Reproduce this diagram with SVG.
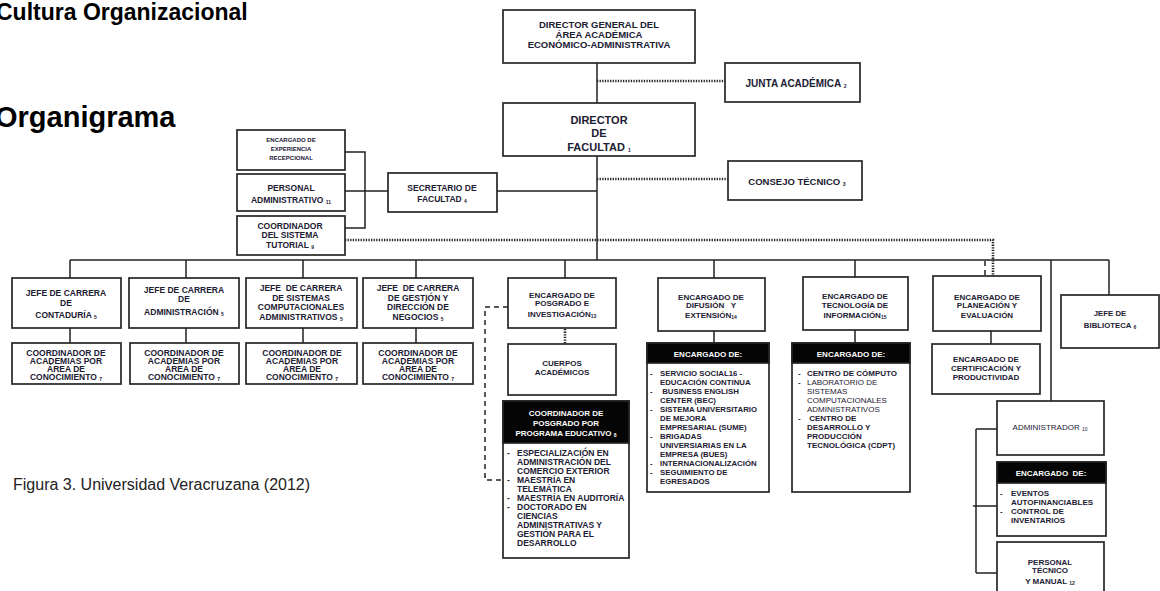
<svg xmlns="http://www.w3.org/2000/svg" width="1160" height="591" viewBox="0 0 1160 591">
<style>
text{font-family:"Liberation Sans",Arial,sans-serif;font-weight:bold;fill:#1c2033}
.c{text-anchor:middle}
.s{font-size:5px}
.f10{font-size:10px}
.f95{font-size:9.5px}
.f85{font-size:8.5px}
.f8{font-size:8px}
.f78{font-size:7.8px}
.f6{font-size:6px}
.f11{font-size:11px}
.w{fill:#fff}
.n{font-weight:normal}
.box{fill:#fff;stroke:#262626;stroke-width:1.7}
.hd{fill:#050505;stroke:#262626;stroke-width:1.7}
.ln{fill:none;stroke:#222;stroke-width:1.5}
.dot{fill:none;stroke:#222;stroke-width:2.6;stroke-dasharray:1.3 1.3}
.dash{fill:none;stroke:#222;stroke-width:1.5;stroke-dasharray:5 4}
.title{fill:#000}
.cap{font-size:16px;font-weight:normal;fill:#222}
</style>
<rect width="1160" height="591" fill="#fff"/>
<text class="title" x="-4" y="20" font-size="23">Cultura Organizacional</text>
<text class="title" x="-5" y="127" font-size="29">Organigrama</text>
<text class="cap" x="13" y="490">Figura 3. Universidad Veracruzana (2012)</text>

<g id="connectors">
<path class="ln" d="M597 63V103M597 156V260M497 191H597M345 191H388M345 152H365V228H345M70 260H1109M70 260V278M186 260V278M303 260V278M416 260V278M565 260V278M714 260V278M855 260V277M1109 260V295M1051 260V401M70 328V343M186 328V343M303 328V343M416 328V343M714 331V343M855 330V343M991 331V344M976 429V573M976 429H997M973 506H997M976 573H997"/>
<path class="dot" d="M597 81H725M597 179H728M345 240H993V276M565 329V344"/>
<path class="dash" d="M985 261V276"/>
<path class="dash" d="M508 307H485V480H503"/>
</g>

<g id="dir-general">
<rect class="box" x="503" y="10" width="192" height="53"/>
<text class="c f95" x="599" y="28">DIRECTOR GENERAL DEL</text>
<text class="c f95" x="599" y="38">ÁREA ACADÉMICA</text>
<text class="c f95" x="599" y="48">ECONÓMICO-ADMINISTRATIVA</text>
</g>
<g id="junta">
<rect class="box" x="725" y="63" width="135" height="39"/>
<text class="c f10" x="796" y="87">JUNTA ACADÉMICA <tspan class="s" dy="1">2</tspan></text>
</g>
<g id="dir-facultad">
<rect class="box" x="503" y="103" width="192" height="53"/>
<text class="c f11" x="599" y="124">DIRECTOR</text>
<text class="c f11" x="599" y="137">DE</text>
<text class="c f11" x="599" y="151">FACULTAD <tspan class="s" dy="1">1</tspan></text>
</g>
<g id="consejo">
<rect class="box" x="728" y="161" width="134" height="39"/>
<text class="c f95" x="797" y="185">CONSEJO TÉCNICO <tspan class="s" dy="1">3</tspan></text>
</g>
<g id="secretario">
<rect class="box" x="388" y="173" width="109" height="39"/>
<text class="c f85" x="442" y="191">SECRETARIO DE</text>
<text class="c f85" x="442" y="202">FACULTAD <tspan class="s" dy="1">4</tspan></text>
</g>
<g id="exp-recepcional">
<rect class="box" x="237" y="130" width="108" height="40"/>
<text class="c f6" x="291" y="142">ENCARGADO DE</text>
<text class="c f6" x="291" y="151">EXPERIENCIA</text>
<text class="c f6" x="291" y="160">RECEPCIONAL</text>
</g>
<g id="personal-admin">
<rect class="box" x="237" y="174" width="108" height="37"/>
<text class="c f85" x="291" y="191">PERSONAL</text>
<text class="c f85" x="291" y="203">ADMINISTRATIVO <tspan class="s" dy="1">11</tspan></text>
</g>
<g id="tutorial">
<rect class="box" x="237" y="216" width="108" height="39"/>
<text class="c f85" x="290" y="229">COORDINADOR</text>
<text class="c f85" x="290" y="238">DEL SISTEMA</text>
<text class="c f85" x="290" y="248">TUTORIAL <tspan class="s" dy="1">9</tspan></text>
</g>

<g id="jefe-contaduria">
<rect class="box" x="12" y="278" width="109" height="50"/>
<text class="c f85" x="66" y="296">JEFE DE CARRERA</text>
<text class="c f85" x="66" y="306">DE</text>
<text class="c f85" x="66" y="318">CONTADURÍA <tspan class="s" dy="1">5</tspan></text>
</g>
<g id="jefe-administracion">
<rect class="box" x="129" y="278" width="110" height="50"/>
<text class="c f85" x="184" y="293">JEFE DE CARRERA</text>
<text class="c f85" x="184" y="302">DE</text>
<text class="c f85" x="184" y="315">ADMINISTRACIÓN <tspan class="s" dy="1">5</tspan></text>
</g>
<g id="jefe-sistemas">
<rect class="box" x="246" y="278" width="111" height="50"/>
<text class="c f85" x="301" y="291" xml:space="preserve">JEFE  DE CARRERA</text>
<text class="c f85" x="301" y="301">DE SISTEMAS</text>
<text class="c f85" x="301" y="310">COMPUTACIONALES</text>
<text class="c f85" x="301" y="320">ADMINISTRATIVOS <tspan class="s" dy="1">5</tspan></text>
</g>
<g id="jefe-gestion">
<rect class="box" x="363" y="278" width="110" height="50"/>
<text class="c f85" x="418" y="291" xml:space="preserve">JEFE  DE CARRERA</text>
<text class="c f85" x="418" y="301">DE GESTIÓN Y</text>
<text class="c f85" x="418" y="310">DIRECCIÓN DE</text>
<text class="c f85" x="418" y="320">NEGOCIOS <tspan class="s" dy="1">5</tspan></text>
</g>

<g id="coord-1">
<rect class="box" x="12" y="343" width="109" height="41"/>
<text class="c f85" x="66" y="356">COORDINADOR DE</text>
<text class="c f85" x="66" y="364">ACADEMIAS POR</text>
<text class="c f85" x="66" y="372">ÁREA DE</text>
<text class="c f85" x="66" y="380">CONOCIMIENTO <tspan class="s" dy="1">7</tspan></text>
</g>
<g id="coord-2">
<rect class="box" x="130" y="343" width="109" height="41"/>
<text class="c f85" x="184" y="356">COORDINADOR DE</text>
<text class="c f85" x="184" y="364">ACADEMIAS POR</text>
<text class="c f85" x="184" y="372">ÁREA DE</text>
<text class="c f85" x="184" y="380">CONOCIMIENTO <tspan class="s" dy="1">7</tspan></text>
</g>
<g id="coord-3">
<rect class="box" x="246" y="343" width="111" height="41"/>
<text class="c f85" x="302" y="356">COORDINADOR DE</text>
<text class="c f85" x="302" y="364">ACADEMIAS POR</text>
<text class="c f85" x="302" y="372">ÁREA DE</text>
<text class="c f85" x="302" y="380">CONOCIMIENTO <tspan class="s" dy="1">7</tspan></text>
</g>
<g id="coord-4">
<rect class="box" x="363" y="343" width="110" height="41"/>
<text class="c f85" x="418" y="356">COORDINADOR DE</text>
<text class="c f85" x="418" y="364">ACADEMIAS POR</text>
<text class="c f85" x="418" y="372">ÁREA DE</text>
<text class="c f85" x="418" y="380">CONOCIMIENTO <tspan class="s" dy="1">7</tspan></text>
</g>

<g id="posgrado">
<rect class="box" x="508" y="278" width="108" height="50"/>
<text class="c f8" x="562" y="298">ENCARGADO DE</text>
<text class="c f8" x="562" y="306">POSGRADO E</text>
<text class="c f8" x="562" y="317">INVESTIGACIÓN<tspan class="s" dy="1">13</tspan></text>
</g>
<g id="cuerpos">
<rect class="box" x="508" y="344" width="108" height="51"/>
<text class="c f8" x="562" y="366">CUERPOS</text>
<text class="c f8" x="562" y="375">ACADÉMICOS</text>
</g>
<g id="coord-posgrado">
<rect class="box" x="503" y="401" width="126" height="157"/>
<rect class="hd" x="503" y="401" width="126" height="42"/>
<text class="c f8 w" x="566" y="416">COORDINADOR DE</text>
<text class="c f8 w" x="566" y="426">POSGRADO POR</text>
<text class="c f8 w" x="566" y="436">PROGRAMA EDUCATIVO <tspan class="s" dy="1">8</tspan></text>
<g class="f85">
<text x="507" y="456">-</text><text x="517" y="456">ESPECIALIZACIÓN EN</text>
<text x="517" y="465">ADMINISTRACIÓN DEL</text>
<text x="517" y="474">COMERCIO EXTERIOR</text>
<text x="507" y="483">-</text><text x="517" y="483">MAESTRÍA EN</text>
<text x="517" y="492">TELEMÁTICA</text>
<text x="507" y="501">-</text><text x="517" y="501">MAESTRÍA EN AUDITORÍA</text>
<text x="507" y="510">-</text><text x="517" y="510">DOCTORADO EN</text>
<text x="517" y="519">CIENCIAS</text>
<text x="517" y="528">ADMINISTRATIVAS Y</text>
<text x="517" y="537">GESTIÓN PARA EL</text>
<text x="517" y="546">DESARROLLO</text>
</g>
</g>

<g id="difusion">
<rect class="box" x="658" y="278" width="107" height="53"/>
<text class="c f8" x="711" y="300">ENCARGADO DE</text>
<text class="c f8" x="711" y="308" xml:space="preserve">DIFUSIÓN   Y</text>
<text class="c f8" x="711" y="318">EXTENSIÓN<tspan class="s" dy="1">14</tspan></text>
</g>
<g id="difusion-enc">
<rect class="box" x="647" y="343" width="122" height="149"/>
<rect class="hd" x="647" y="343" width="122" height="20"/>
<text class="c f8 w" x="708" y="357">ENCARGADO DE:</text>
<g class="f78">
<text x="650" y="376">-</text><text x="660" y="376">SERVICIO SOCIAL16 -</text>
<text x="660" y="385">EDUCACIÓN CONTINUA</text>
<text x="650" y="394">-</text><text x="660" y="394" xml:space="preserve"> BUSINESS ENGLISH</text>
<text x="660" y="403">CENTER (BEC)</text>
<text x="650" y="412">-</text><text x="660" y="412">SISTEMA UNIVERSITARIO</text>
<text x="660" y="421">DE MEJORA</text>
<text x="660" y="430">EMPRESARIAL (SUME)</text>
<text x="650" y="439">-</text><text x="660" y="439">BRIGADAS</text>
<text x="660" y="448">UNIVERSIARIAS EN LA</text>
<text x="660" y="457">EMPRESA (BUES)</text>
<text x="650" y="466">-</text><text x="660" y="466">INTERNACIONALIZACIÓN</text>
<text x="650" y="475">-</text><text x="660" y="475">SEGUIMIENTO DE</text>
<text x="660" y="484">EGRESADOS</text>
</g>
</g>

<g id="tecnologia">
<rect class="box" x="803" y="277" width="105" height="53"/>
<text class="c f8" x="855" y="299">ENCARGADO DE</text>
<text class="c f8" x="855" y="308">TECNOLOGÍA DE</text>
<text class="c f8" x="855" y="318">INFORMACIÓN<tspan class="s" dy="1">15</tspan></text>
</g>
<g id="tecnologia-enc">
<rect class="box" x="792" y="343" width="118" height="149"/>
<rect class="hd" x="792" y="343" width="118" height="20"/>
<text class="c f8 w" x="851" y="357">ENCARGADO DE:</text>
<g class="f8">
<text x="798" y="376">-</text><text x="807" y="376">CENTRO DE CÓMPUTO</text>
<text x="798" y="385">-</text><text class="n" x="807" y="385">LABORATORIO DE</text>
<text class="n" x="807" y="394">SISTEMAS</text>
<text class="n" x="807" y="403">COMPUTACIONALES</text>
<text class="n" x="807" y="412">ADMINISTRATIVOS</text>
<text x="798" y="421">-</text><text x="807" y="421" xml:space="preserve"> CENTRO DE</text>
<text x="807" y="430">DESARROLLO Y</text>
<text x="807" y="439">PRODUCCIÓN</text>
<text x="807" y="448">TECNOLÓGICA (CDPT)</text>
</g>
</g>

<g id="planeacion">
<rect class="box" x="933" y="276" width="108" height="55"/>
<text class="c f8" x="987" y="300">ENCARGADO DE</text>
<text class="c f8" x="987" y="308">PLANEACIÓN Y</text>
<text class="c f8" x="987" y="318">EVALUACIÓN</text>
</g>
<g id="certificacion">
<rect class="box" x="932" y="344" width="108" height="50"/>
<text class="c f8" x="986" y="362">ENCARGADO DE</text>
<text class="c f8" x="986" y="371">CERTIFICACIÓN Y</text>
<text class="c f8" x="986" y="380">PRODUCTIVIDAD</text>
</g>
<g id="biblioteca">
<rect class="box" x="1061" y="295" width="98" height="53"/>
<text class="c f78" x="1110" y="316">JEFE DE</text>
<text class="c f78" x="1110" y="328">BIBLIOTECA <tspan class="s" dy="1">6</tspan></text>
</g>
<g id="administrador">
<rect class="box" x="997" y="401" width="107" height="54"/>
<text class="c f8 n" x="1050" y="430">ADMINISTRADOR <tspan class="s" dy="1">10</tspan></text>
</g>
<g id="admin-enc">
<rect class="box" x="997" y="462" width="109" height="74"/>
<rect class="hd" x="997" y="462" width="109" height="21"/>
<text class="c f8 w" x="1051" y="476" xml:space="preserve">ENCARGADO  DE:</text>
<g class="f8">
<text x="1000" y="496">-</text><text x="1011" y="496">EVENTOS</text>
<text x="1011" y="505">AUTOFINANCIABLES</text>
<text x="1000" y="514">-</text><text x="1011" y="514">CONTROL DE</text>
<text x="1011" y="523">INVENTARIOS</text>
</g>
</g>
<g id="personal-tecnico">
<rect class="box" x="997" y="542" width="107" height="60"/>
<text class="c f8" x="1050" y="565">PERSONAL</text>
<text class="c f8" x="1050" y="573">TÉCNICO</text>
<text class="c f8" x="1050" y="584">Y MANUAL <tspan class="s" dy="1">12</tspan></text>
</g>
</svg>
